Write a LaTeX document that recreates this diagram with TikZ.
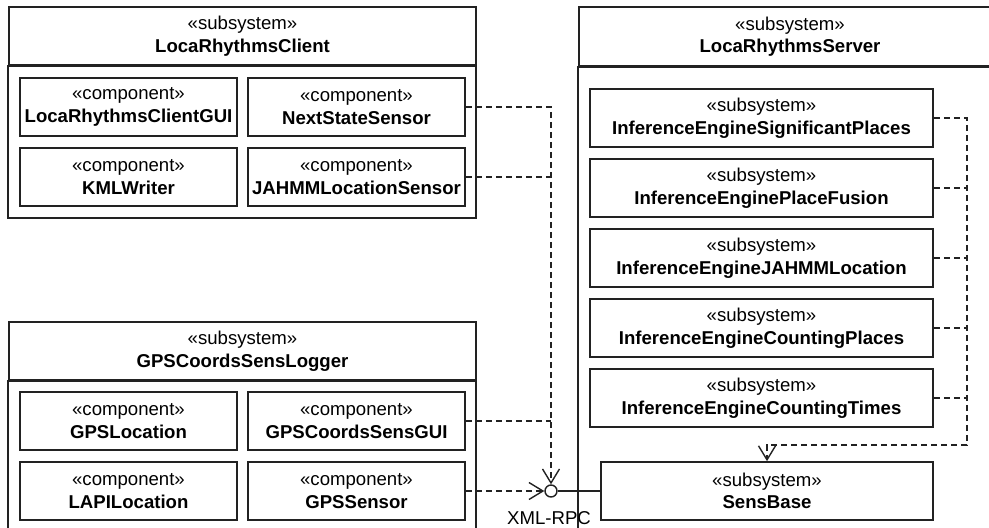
\documentclass[tikz,border=0pt]{standalone}
\usepackage{fontspec}
\setmainfont{Liberation Sans}
\usetikzlibrary{arrows.meta,positioning,calc}
\definecolor{tinta}{HTML}{222222}
\tikzset{
  caja/.style={draw=tinta,line width=1.7pt,inner sep=0pt,align=center,
    minimum height=58pt,font=\fontsize{18.6}{22.5}\selectfont},
  enlace/.style={draw=tinta,line width=1.5pt,dash pattern=on 6pt off 4pt},
  dep/.style={enlace,-{Straight Barb[length=14pt,width=17pt,line width=1.4pt]}},
  bola/.style={circle,draw=tinta,line width=1.4pt,inner sep=0pt,minimum size=12pt,fill=white}
}
\newcommand{\estereo}[2]{«#1»\\\textbf{#2}}

\begin{document}
\begin{tikzpicture}[x=1pt,y=-1pt]
  \useasboundingbox (0,0) rectangle (989,528);
  \clip (0,0) rectangle (989,528);
  % subsistemas
  \node[caja,minimum width=467pt] (cliente) at (242.5,36) {\estereo{subsystem}{LocaRhythmsClient}};
  \draw[tinta,line width=1.7pt] (cliente.south west) rectangle (476,218);
  \node[caja,minimum width=467pt] (logger) at (242.5,351) {\estereo{subsystem}{GPSCoordsSensLogger}};
  \draw[tinta,line width=1.7pt] (logger.south west) rectangle (476,560);
  \node[caja,minimum width=422pt,minimum height=59pt] (servidor) at (790,36.5) {\estereo{subsystem}{LocaRhythmsServer}};
  \draw[tinta,line width=1.7pt] (servidor.south west) rectangle (1001,560);
  % componentes del cliente
  \foreach \n/\x/\y/\t in {gui/128.5/107/LocaRhythmsClientGUI,nss/356.5/107/NextStateSensor,
      kml/128.5/177/KMLWriter,jahmm/356.5/177/JAHMMLocationSensor,
      gpsloc/128.5/421/GPSLocation,gpsgui/356.5/421/GPSCoordsSensGUI,
      lapi/128.5/491/LAPILocation,gpss/356.5/491/GPSSensor}
    \node[caja,minimum width=217pt] (\n) at (\x,\y) {\estereo{component}{\t}};
  % motores de inferencia
  \foreach \n/\y/\t in {ie1/118/SignificantPlaces,ie2/188/PlaceFusion,ie3/258/JAHMMLocation,
      ie4/328/CountingPlaces,ie5/398/CountingTimes}
    \node[caja,minimum width=343pt] (\n) at (761.5,\y) {\estereo{subsystem}{InferenceEngine\t}};
  \node[caja,minimum width=332pt] (sens) at (767,491) {\estereo{subsystem}{SensBase}};
  % interfaz
  \node[bola] (xmlrpc) at (551,491) {};
  \node[font=\fontsize{18.6}{22.5}\selectfont,inner sep=0pt] (rpc) at (549,518) {XML-RPC};
  \draw[tinta,line width=1.5pt] (xmlrpc) -- (sens.west);
  \draw[dep] (nss.east) -| (xmlrpc.north);
  \draw[enlace] (jahmm.east) -- (jahmm.east -| xmlrpc);
  \draw[enlace] (gpsgui.east) -- (gpsgui.east -| xmlrpc);
  \draw[dep] (gpss.east) -- (xmlrpc.west);
  % dependencias del servidor
  \coordinate (esq) at (967,445);
  \draw[dep] (ie1.east) -| (esq) -| (sens.north);
  \foreach \n in {ie2,ie3,ie4,ie5}
    \draw[enlace] (\n.east) -- (\n.east -| esq);
\end{tikzpicture}
\end{document}
